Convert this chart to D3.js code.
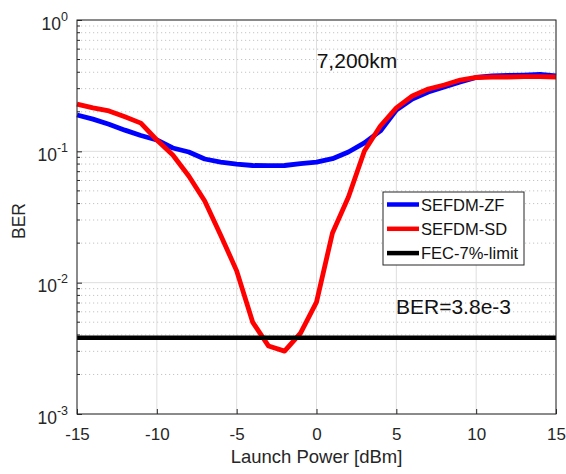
<!DOCTYPE html>
<html>
<head>
<meta charset="utf-8">
<script src="https://cdn.jsdelivr.net/npm/d3@7"></script>
<style>
  body { margin: 0; background: #fff; }
  svg { display: block; font-family: "Liberation Sans", Arial, Helvetica, sans-serif; }
</style>
</head>
<body>
<svg id="chart" width="566" height="474"></svg>
<script>
// Launch power sweep (dBm) and measured BER for both receivers
const power = [-15, -14, -13, -12, -11, -10, -9, -8, -7, -6, -5, -4, -3, -2, -1, 0,
               1, 2, 3, 4, 5, 6, 7, 8, 9, 10, 11, 12, 13, 14, 15];
const berZF = [0.189, 0.176, 0.161, 0.145, 0.132, 0.122, 0.106, 0.0988, 0.0874, 0.0829,
               0.0800, 0.0780, 0.0777, 0.0780, 0.0807, 0.0829, 0.0879, 0.0988, 0.116, 0.143,
               0.206, 0.250, 0.283, 0.309, 0.337, 0.365, 0.375, 0.378, 0.381, 0.385, 0.375];
const berSD = [0.229, 0.214, 0.203, 0.183, 0.164, 0.122, 0.0937, 0.0649, 0.0418, 0.0230,
               0.0123, 0.00501, 0.00329, 0.00301, 0.00413, 0.00711, 0.0239, 0.0449, 0.1005, 0.156,
               0.214, 0.264, 0.298, 0.320, 0.349, 0.365, 0.368, 0.368, 0.371, 0.371, 0.368];
const fecLimit = 3.8e-3;

const xTicks = [-15, -10, -5, 0, 5, 10, 15];
const yDecades = [1e-3, 1e-2, 1e-1, 1];
const seriesNames = ["SEFDM-ZF", "SEFDM-SD", "FEC-7%-limit"];
const seriesColors = ["#0000ff", "#ff0000", "#000000"];
const distanceLabel = "7,200km";
const limitLabel = "BER=3.8e-3";

const W = 566, H = 474;
const m = { left: 77, right: 10, top: 20, bottom: 60 };
const iw = W - m.left - m.right, ih = H - m.top - m.bottom;

const svg = d3.select("#chart");
const g = svg.append("g").attr("transform", `translate(${m.left},${m.top})`);

const x = d3.scaleLinear().domain([-15, 15]).range([0, iw]);
const y = d3.scaleLog().domain([1e-3, 1]).range([ih, 0]);

// minor log grid (2..9 within each decade)
const minor = y.ticks().filter(v => !yDecades.some(d => Math.abs(d - v) / d < 1e-9));
g.append("g").selectAll("line").data(minor).join("line")
  .attr("x1", 0).attr("x2", iw)
  .attr("y1", d => y(d)).attr("y2", d => y(d))
  .attr("stroke", "#c4c4c4").attr("stroke-width", 1).attr("stroke-dasharray", "1.2,2.8");

// major grid
g.append("g").selectAll("line").data(xTicks).join("line")
  .attr("x1", d => x(d)).attr("x2", d => x(d)).attr("y1", 0).attr("y2", ih)
  .attr("stroke", "#dedede").attr("stroke-width", 1);
g.append("g").selectAll("line").data(yDecades).join("line")
  .attr("x1", 0).attr("x2", iw).attr("y1", d => y(d)).attr("y2", d => y(d))
  .attr("stroke", "#dedede").attr("stroke-width", 1);

// data lines
const line = d3.line().x((d, i) => x(power[i])).y(d => y(d));
g.append("path").datum(berZF).attr("d", line)
  .attr("fill", "none").attr("stroke", seriesColors[0]).attr("stroke-width", 4.8)
  .attr("stroke-linejoin", "round");
g.append("path").datum(berSD).attr("d", line)
  .attr("fill", "none").attr("stroke", seriesColors[1]).attr("stroke-width", 4.8)
  .attr("stroke-linejoin", "round");
g.append("line")
  .attr("x1", x(-15)).attr("x2", x(15)).attr("y1", y(fecLimit)).attr("y2", y(fecLimit))
  .attr("stroke", seriesColors[2]).attr("stroke-width", 4.5);

// axes with inward ticks
const axisColor = "#262626";
const xAxis = g.append("g").attr("transform", `translate(0,${ih})`)
  .call(d3.axisBottom(x).tickValues(xTicks).tickSize(-5).tickPadding(14).tickFormat(d3.format("d")));
xAxis.selectAll("text").attr("font-size", 17).attr("fill", "#262626")
  .text(d => String(d));
const yAxis = g.append("g")
  .call(d3.axisLeft(y).tickValues(yDecades).tickSize(-5).tickPadding(9).tickFormat(() => ""));
yAxis.selectAll(".tick text").each(function (d) {
  const t = d3.select(this).attr("dy", null).attr("y", 9).attr("font-size", 17.5).attr("fill", "#262626");
  t.append("tspan").text("10");
  t.append("tspan").attr("font-size", 12.5).attr("dy", -9).text(String(Math.round(Math.log10(d))));
});
// minor ticks on the left
g.append("g").selectAll("line").data(minor).join("line")
  .attr("x1", 0).attr("x2", 3).attr("y1", d => y(d)).attr("y2", d => y(d))
  .attr("stroke", axisColor);
[xAxis, yAxis].forEach(a => {
  a.select(".domain").remove();
  a.selectAll(".tick line").attr("stroke", axisColor);
});
// frame
g.append("rect").attr("width", iw).attr("height", ih)
  .attr("fill", "none").attr("stroke", axisColor).attr("stroke-width", 1);

// annotations
g.append("text").attr("x", 316.7 - m.left).attr("y", 68 - m.top)
  .attr("font-size", 21).attr("fill", "#111").text(distanceLabel);
g.append("text").attr("x", 396 - m.left).attr("y", 314 - m.top)
  .attr("font-size", 21).attr("fill", "#111").text(limitLabel);

// axis titles
svg.append("text").attr("x", m.left + iw / 2).attr("y", 463).attr("text-anchor", "middle")
  .attr("font-size", 18.5).attr("fill", "#262626").text("Launch Power [dBm]");
svg.append("text").attr("transform", "translate(25,221) rotate(-90)").attr("text-anchor", "middle")
  .attr("font-size", 17.5).attr("fill", "#262626").text("BER");

// legend
const lg = svg.append("g").attr("transform", "translate(383,192)");
lg.append("rect").attr("width", 141).attr("height", 73)
  .attr("fill", "#fff").attr("stroke", axisColor).attr("stroke-width", 1);
seriesNames.forEach((name, i) => {
  const ry = 12.5 + i * 24.3;
  lg.append("line").attr("x1", 4).attr("x2", 36).attr("y1", ry).attr("y2", ry)
    .attr("stroke", seriesColors[i]).attr("stroke-width", 4.5);
  lg.append("text").attr("x", 38).attr("y", ry + 6).attr("font-size", 16.5)
    .attr("fill", "#111").text(name);
});
</script>
</body>
</html>
